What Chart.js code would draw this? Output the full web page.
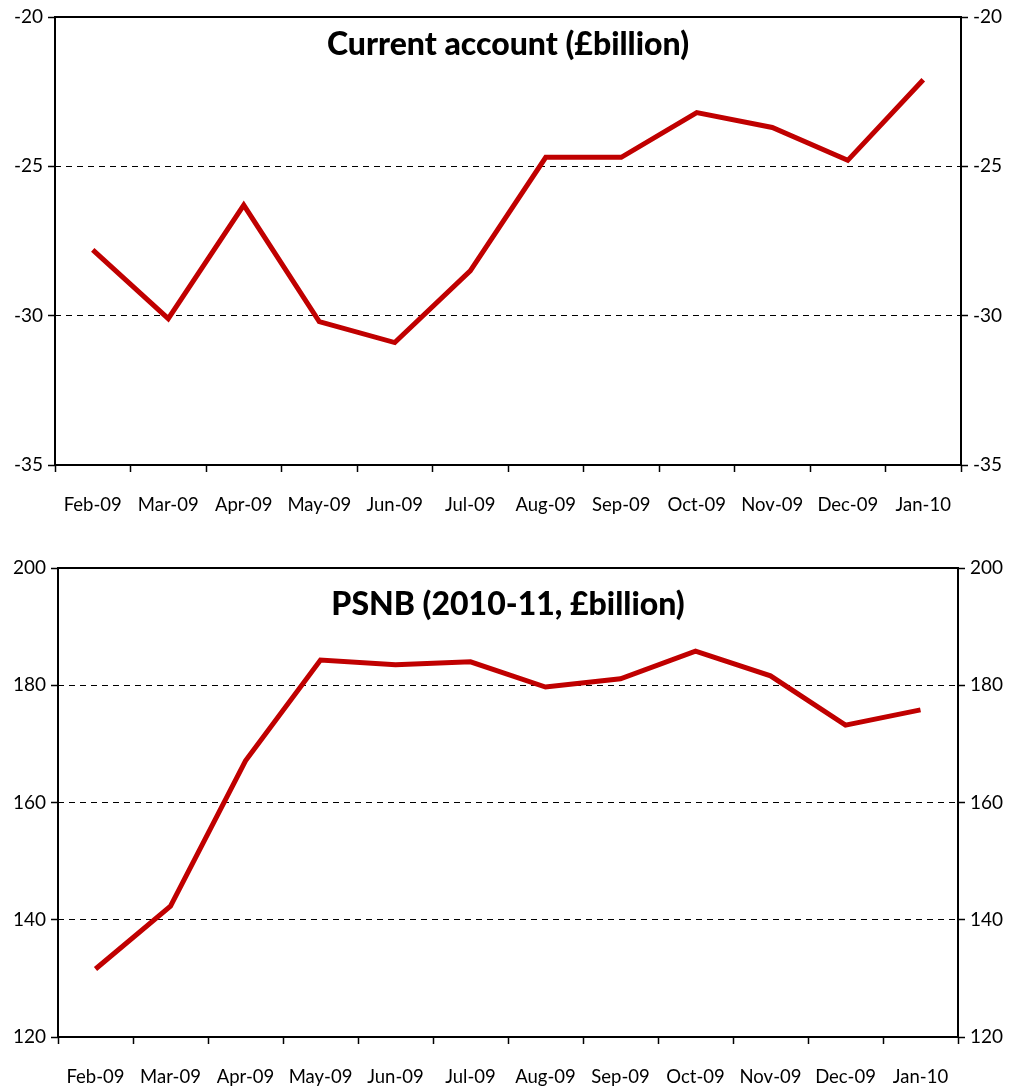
<!DOCTYPE html>
<html>
<head>
<meta charset="utf-8">
<script src="https://cdn.jsdelivr.net/npm/chart.js@4"></script>
<style>
    body { margin: 0; background: #fff; }
    #top { width: 1011px; height: 530px; position: relative; }
    #bottom { width: 1011px; height: 560px; position: relative; }
</style>
</head>
<body>
<div id="top"><canvas id="caChart"></canvas></div>
<div id="bottom"><canvas id="psnbChart"></canvas></div>
<script>
const months = ["Feb-09", "Mar-09", "Apr-09", "May-09", "Jun-09", "Jul-09",
    "Aug-09", "Sep-09", "Oct-09", "Nov-09", "Dec-09", "Jan-10"];

const currentAccount = [-27.8, -30.1, -26.3, -30.2, -30.9, -28.5, -24.7, -24.7, -23.2, -23.7, -24.8, -22.1];
const psnb = [131.6, 142.3, 167.1, 184.3, 183.5, 184.0, 179.7, 181.1, 185.8, 181.6, 173.2, 175.8];

const caTitle = "Current account (£billion)";
const psnbTitle = "PSNB (2010-11, £billion)";

const caRange = { min: -35, max: -20, step: 5 };
const psnbRange = { min: 120, max: 200, step: 20 };

const lineColor = "#c00000";
const fontFamily = "Lato, 'Open Sans', sans-serif";

Chart.defaults.font.family = fontFamily;
Chart.defaults.color = "#000";

// box around the plot + title inside it
const framePlugin = {
    id: 'frame',
    afterDraw(chart, args, opts) {
        const a = chart.chartArea;
        const ctx = chart.ctx;
        ctx.save();
        ctx.strokeStyle = '#000';
        ctx.lineWidth = 2;
        ctx.strokeRect(a.left, a.top, a.right - a.left, a.bottom - a.top);
        ctx.fillStyle = '#000';
        ctx.font = "900 32px " + fontFamily;
        ctx.textAlign = 'center';
        ctx.textBaseline = 'middle';
        ctx.fillText(opts.text, (a.left + a.right) / 2, a.top + opts.offset);
        ctx.restore();
    }
};

function makeChart(canvas, values, range, title, dims) {
    const yGrid = function (right) {
        return {
            drawOnChartArea: !right,
            color: function (context) {
                const v = context.tick.value;
                return (v === range.min || v === range.max) ? 'rgba(0,0,0,0)' : '#000';
            },
            tickColor: '#000',
            tickLength: 7,
            lineWidth: 1,
            tickWidth: 1.5
        };
    };
    const yAxis = function (right) {
        return {
            position: right ? 'right' : 'left',
            min: range.min,
            max: range.max,
            ticks: { stepSize: range.step, padding: 5, font: { size: 19 } },
            grid: yGrid(right),
            border: { display: false, dash: [6, 5] },
            afterFit: function (scale) { scale.width = right ? dims.right : dims.left; }
        };
    };

    return new Chart(canvas, {
        type: 'line',
        data: {
            labels: months,
            datasets: [{
                data: values,
                borderColor: lineColor,
                borderWidth: 5,
                pointRadius: 0,
                fill: false,
                tension: 0
            }]
        },
        options: {
            responsive: true,
            maintainAspectRatio: false,
            animation: false,
            layout: { padding: { top: dims.top, left: 0, right: 0, bottom: 0 } },
            plugins: {
                legend: { display: false },
                tooltip: { enabled: false },
                frame: { text: title, offset: dims.titleOffset }
            },
            scales: {
                x: {
                    offset: true,
                    grid: {
                        offset: true,
                        drawOnChartArea: false,
                        color: '#000',
                        tickLength: 7,
                        tickWidth: 1.5
                    },
                    border: { display: false },
                    ticks: { padding: 22, maxRotation: 0, autoSkip: false, font: { size: 18.5 } },
                    afterFit: function (scale) { scale.height = dims.bottom; }
                },
                y: yAxis(false),
                y2: yAxis(true)
            }
        },
        plugins: [framePlugin]
    });
}

makeChart(document.getElementById('caChart'), currentAccount, caRange, caTitle,
    { left: 55, right: 50, top: 17, bottom: 65, titleOffset: 28 });
makeChart(document.getElementById('psnbChart'), psnb, psnbRange, psnbTitle,
    { left: 58, right: 53, top: 38, bottom: 53, titleOffset: 37 });
</script>
</body>
</html>
